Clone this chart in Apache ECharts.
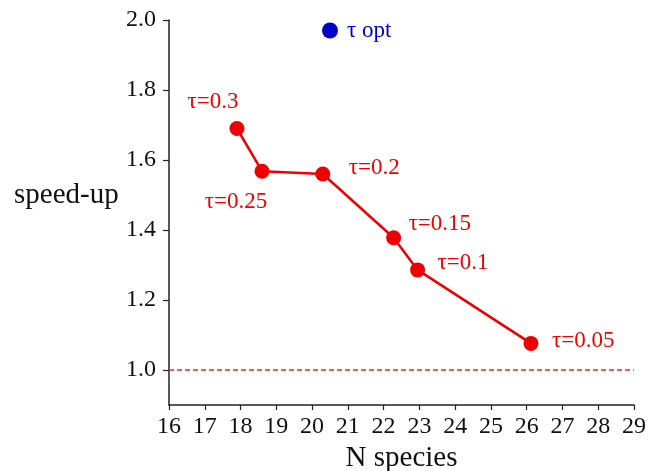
<!DOCTYPE html>
<html>
<head>
<meta charset="utf-8">
<script src="https://cdn.jsdelivr.net/npm/echarts@6/dist/echarts.min.js"></script>
<style>
  html, body { margin: 0; padding: 0; background: #ffffff; }
  #chart { width: 648px; height: 471px; }
</style>
</head>
<body>
<div id="chart"></div>
<script>
// Number of species kept vs. speed-up, for each threshold tau
const nSpecies = [17.9, 18.6, 20.3, 22.28, 22.95, 26.12];
const speedUp  = [1.69, 1.568, 1.56, 1.378, 1.286, 1.076];
const tauValues = ['0.3', '0.25', '0.2', '0.15', '0.1', '0.05'];
const xTicks = [16, 17, 18, 19, 20, 21, 22, 23, 24, 25, 26, 27, 28, 29];
const yTicks = [1.0, 1.2, 1.4, 1.6, 1.8, 2.0];
const baseline = 1.0;

// label placement around each marker: [align, dx, dy]
const labelPlacement = [
  ['center', -24, -27],
  ['center', -26, 31],
  ['left', 26, -6],
  ['left', 15, -14],
  ['left', 20, -7],
  ['left', 21, -2]
];

const FONT = 'Liberation Serif';
const RED = '#ee0000';
const BLUE = '#0000cc';
const AXIS = '#222222';

const points = nSpecies.map((x, i) => ({
  value: [x, speedUp[i]],
  label: {
    show: true,
    formatter: 'τ=' + tauValues[i],
    position: 'inside',
    align: labelPlacement[i][0],
    verticalAlign: 'middle',
    offset: [labelPlacement[i][1], labelPlacement[i][2]],
    color: RED,
    fontFamily: FONT,
    fontSize: 23
  }
}));

const chart = echarts.init(document.getElementById('chart'), null, { renderer: 'canvas' });
chart.setOption({
  animation: false,
  backgroundColor: '#ffffff',
  grid: { left: 169, right: 14, top: 20, bottom: 66, containLabel: false, outerBoundsMode: 'none' },
  legend: {
    data: [{ name: 'τ opt', icon: 'circle', itemStyle: { color: BLUE, opacity: 1 } }],
    left: 322,
    top: 19,
    padding: 0,
    itemWidth: 16,
    itemHeight: 16,
    textStyle: { color: BLUE, fontFamily: FONT, fontSize: 23, padding: [0, 0, 0, 4] }
  },
  xAxis: {
    type: 'value',
    min: xTicks[0],
    max: xTicks[xTicks.length - 1],
    interval: 1,
    name: 'N species',
    nameLocation: 'middle',
    nameGap: 37,
    nameTextStyle: { color: '#111', fontFamily: FONT, fontSize: 29 },
    axisLine: { show: true, lineStyle: { color: AXIS, width: 1.5 } },
    axisTick: { show: true, length: 5, inside: false, lineStyle: { color: AXIS, width: 1.2 } },
    axisLabel: { color: '#111', fontFamily: FONT, fontSize: 24, margin: 10 },
    splitLine: { show: false }
  },
  yAxis: {
    type: 'value',
    min: 0.9,
    max: 2.0,
    interval: 0.1,
    axisLine: { show: true, onZero: false, lineStyle: { color: AXIS, width: 1.5 } },
    axisTick: { show: true, length: 6, customValues: yTicks, lineStyle: { color: AXIS, width: 1.2 } },
    axisLabel: {
      color: '#111', fontFamily: FONT, fontSize: 24, margin: 13,
      customValues: yTicks,
      formatter: v => v.toFixed(1)
    },
    splitLine: { show: false }
  },
  graphic: [{
    type: 'text',
    left: 14,
    top: 181,
    style: { text: 'speed-up', fill: '#111', font: '29px "Liberation Serif"' }
  }],
  series: [
    {
      name: 'speed-up',
      type: 'line',
      data: points,
      symbol: 'circle',
      symbolSize: 15,
      color: RED,
      lineStyle: { color: RED, width: 2.5 },
      itemStyle: { color: RED },
      markLine: {
        silent: true,
        symbol: 'none',
        label: { show: false },
        lineStyle: { color: '#ff2222', type: [5, 3], width: 1.5 },
        data: [{ yAxis: baseline }]
      }
    },
    {
      name: 'τ opt',
      type: 'scatter',
      data: [],
      symbol: 'circle',
      itemStyle: { color: BLUE, opacity: 1 }
    }
  ]
});
</script>
</body>
</html>
